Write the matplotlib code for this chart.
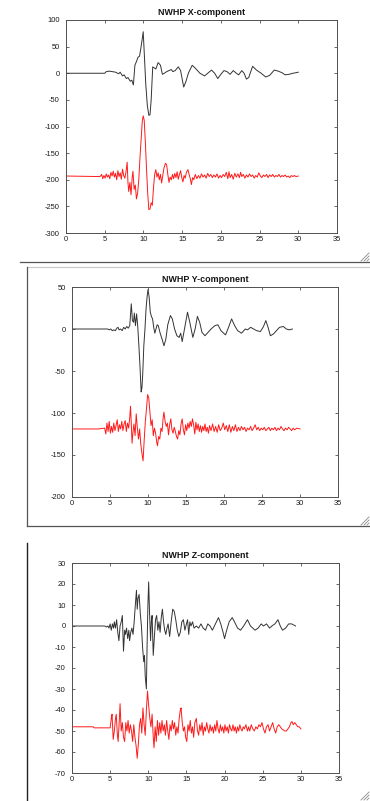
"""Three-component NWHP records: observed trace (black) and offset synthetic (red) per component."""
import numpy as np
import matplotlib; matplotlib.use("Agg")
import matplotlib.pyplot as plt
from matplotlib.lines import Line2D

plt.rcParams["font.family"] = ["Liberation Sans", "DejaVu Sans"]
plt.rcParams["axes.unicode_minus"] = False

COMPONENTS = ["X", "Y", "Z"]
YLIMS = [(-300, 100), (-200, 50), (-70, 30)]
YSTEPS = [50, 50, 10]
XTICKS = [0, 5, 10, 15, 20, 25, 30, 35]

# (time [s], amplitude) picks for each trace
X_TOP = [(0, 0), (5.0, 0), (5.2, 3), (5.6, 4), (6.0, 3), (6.4, 2), (6.8, -1), (7.0, 2), (7.3, -5), (7.5, -3),
         (7.8, -10), (8.0, -8), (8.3, -15), (8.5, -13), (8.7, -22), (8.9, 15), (9.1, 22), (9.3, 30), (9.5, 32),
         (9.7, 50), (9.85, 65), (9.97, 78), (10.1, 40), (10.3, -20), (10.5, -60), (10.7, -79), (10.85, -78),
         (11.0, -50), (11.2, 12), (11.4, 10), (11.6, 8), (11.9, 20), (12.2, 15), (12.45, -2), (12.7, 0),
         (13.0, 3), (13.3, 5), (13.6, 7), (13.8, 3), (14.1, 5), (14.5, 12), (14.8, 5), (15.2, -26), (15.5, -15),
         (15.8, 0), (16.3, 15), (16.8, 8), (17.3, 0), (17.9, -5), (18.3, 0), (18.8, 6), (19.2, 0), (19.6, -10),
         (20.0, -2), (20.4, 5), (20.8, 3), (21.2, -2), (21.6, 5), (22.0, 0), (22.3, -3), (22.7, 5), (23.0, 0),
         (23.3, -11), (23.6, -8), (24.1, 13), (24.6, 6), (25.2, 0), (25.8, -7), (26.3, -4), (26.9, 6), (27.4, 4),
         (27.9, 1), (28.3, -3), (28.8, -2), (29.3, 0), (29.7, 1), (30.0, 2)]
X_BOT = [(0, -193), (4.4, -194), (4.6, -190), (4.75, -198), (4.9, -192), (5.05, -197), (5.2, -189), (5.35, -195),
         (5.5, -191), (5.65, -198), (5.8, -186), (5.95, -193), (6.1, -184), (6.25, -195), (6.4, -188), (6.55, -200),
         (6.7, -183), (6.85, -194), (7.0, -187), (7.15, -199), (7.3, -180), (7.45, -192), (7.6, -197), (7.75, -185),
         (7.9, -167), (8.0, -205), (8.1, -222), (8.25, -205), (8.4, -228), (8.55, -195), (8.65, -184), (8.8, -218),
         (8.95, -210), (9.1, -236), (9.25, -225), (9.4, -200), (9.55, -160), (9.7, -125), (9.85, -90), (9.97, -80),
         (10.1, -88), (10.25, -130), (10.4, -180), (10.55, -225), (10.7, -256), (10.85, -255), (11.0, -243),
         (11.15, -248), (11.3, -215), (11.45, -190), (11.6, -181), (11.75, -195), (11.9, -187), (12.05, -200),
         (12.2, -190), (12.35, -206), (12.5, -192), (12.65, -178), (12.85, -169), (13.0, -172), (13.15, -190),
         (13.3, -205), (13.45, -195), (13.6, -200), (13.75, -190), (13.9, -198), (14.05, -188), (14.2, -196),
         (14.35, -185), (14.5, -199), (14.65, -190), (14.8, -183), (14.95, -196), (15.1, -204), (15.25, -192),
         (15.4, -197), (15.55, -186), (15.75, -181), (15.9, -190), (16.05, -198), (16.2, -209), (16.35, -196),
         (16.5, -200), (16.7, -190), (16.9, -198), (17.1, -192), (17.3, -197), (17.5, -189), (17.7, -195),
         (17.9, -191), (18.1, -197), (18.3, -188), (18.5, -194), (18.7, -190), (18.9, -196), (19.1, -191),
         (19.3, -195), (19.5, -189), (19.7, -197), (19.9, -192), (20.1, -196), (20.3, -190), (20.5, -194),
         (20.7, -186), (20.9, -198), (21.05, -185), (21.2, -196), (21.4, -190), (21.6, -199), (21.8, -188),
         (22.0, -195), (22.2, -189), (22.4, -196), (22.55, -186), (22.7, -194), (22.9, -190), (23.1, -197),
         (23.3, -191), (23.5, -195), (23.7, -189), (23.9, -194), (24.1, -191), (24.3, -197), (24.5, -192),
         (24.7, -195), (24.9, -187), (25.1, -193), (25.3, -196), (25.5, -191), (25.7, -194), (25.9, -190),
         (26.1, -196), (26.3, -191), (26.5, -194), (26.7, -190), (26.9, -195), (27.1, -192), (27.3, -194),
         (27.5, -190), (27.7, -195), (27.9, -192), (28.1, -194), (28.3, -191), (28.5, -195), (28.7, -193),
         (28.9, -196), (29.1, -192), (29.3, -194), (29.5, -192), (29.7, -194), (30.0, -193)]

Y_TOP = [(0, 0), (4.7, 0), (4.9, -1), (5.1, 0), (5.3, -2), (5.5, -1), (5.7, -2), (5.9, 1), (6.05, 2), (6.2, -1),
         (6.4, 0), (6.6, -2), (6.8, 2), (7.0, 0), (7.2, 3), (7.4, 1), (7.6, 4), (7.8, 30), (7.95, 10), (8.1, 8),
         (8.2, 19), (8.35, 4), (8.5, 18), (8.65, 3), (8.8, -20), (8.95, -45), (9.1, -75), (9.2, -70), (9.3, -55),
         (9.45, -20), (9.6, 0), (9.75, 25), (9.9, 40), (10.0, 47), (10.15, 38), (10.3, 20), (10.45, 15),
         (10.6, 12), (10.75, 2), (10.9, -5), (11.05, 0), (11.2, 5), (11.35, 4), (11.6, -5), (11.85, -12),
         (12.1, -20), (12.35, -12), (12.6, 5), (12.95, 16), (13.2, 12), (13.5, 0), (13.8, -8), (14.1, -10),
         (14.3, -5), (14.5, -15), (14.8, 0), (15.2, 20), (15.5, 8), (15.9, -10), (16.2, 0), (16.5, 15), (16.8, 8),
         (17.1, -4), (17.5, -8), (17.9, -4), (18.3, 0), (18.8, 4), (19.2, 5), (19.6, -2), (20.2, -7), (20.6, 2),
         (21.0, 12), (21.4, 4), (21.8, -2), (22.3, -5), (22.6, -2), (22.8, 0), (23.1, -1), (23.5, 2), (23.9, 0),
         (24.3, -2), (24.8, -3), (25.2, 3), (25.5, 10), (25.8, 2), (26.1, -8), (26.5, -6), (26.9, -2), (27.3, 2),
         (27.8, 3), (28.2, 0), (28.6, -1), (29.0, 0)]
Y_BOT = [(0, -119), (3.5, -119), (4.3, -118), (4.45, -125), (4.6, -112), (4.75, -122), (4.9, -110), (5.05, -124),
         (5.2, -116), (5.35, -123), (5.5, -112), (5.65, -121), (5.8, -115), (5.95, -108), (6.1, -122), (6.25, -114),
         (6.4, -119), (6.55, -110), (6.7, -121), (6.85, -113), (7.0, -109), (7.15, -122), (7.3, -112), (7.45, -118),
         (7.6, -105), (7.7, -92), (7.8, -112), (7.9, -136), (8.0, -125), (8.15, -113), (8.3, -127), (8.45, -101),
         (8.6, -118), (8.75, -131), (8.9, -119), (9.05, -137), (9.2, -148), (9.35, -157), (9.5, -132), (9.65, -110),
         (9.8, -95), (9.95, -78), (10.1, -82), (10.25, -98), (10.4, -115), (10.55, -108), (10.7, -127),
         (10.85, -118), (11.0, -124), (11.15, -135), (11.25, -139), (11.4, -128), (11.55, -131), (11.7, -118),
         (11.85, -122), (12.0, -105), (12.1, -99), (12.25, -110), (12.4, -116), (12.55, -112), (12.7, -126),
         (12.85, -114), (13.0, -107), (13.15, -120), (13.3, -124), (13.45, -117), (13.6, -122), (13.75, -128),
         (13.9, -131), (14.05, -121), (14.2, -126), (14.35, -113), (14.5, -107), (14.65, -120), (14.8, -126),
         (14.95, -114), (15.1, -121), (15.25, -112), (15.4, -118), (15.55, -110), (15.7, -116), (15.85, -107),
         (16.0, -114), (16.15, -125), (16.3, -111), (16.45, -120), (16.6, -113), (16.75, -122), (16.9, -115),
         (17.05, -123), (17.2, -116), (17.35, -121), (17.5, -113), (17.65, -122), (17.8, -117), (17.95, -124),
         (18.1, -115), (18.3, -121), (18.5, -113), (18.7, -122), (18.9, -116), (19.1, -123), (19.3, -114),
         (19.5, -121), (19.7, -118), (19.9, -112), (20.1, -120), (20.3, -115), (20.5, -122), (20.7, -114),
         (20.9, -123), (21.1, -116), (21.3, -121), (21.5, -114), (21.7, -122), (21.9, -117), (22.1, -121),
         (22.3, -116), (22.5, -120), (22.7, -117), (22.9, -122), (23.1, -118), (23.3, -120), (23.5, -116),
         (23.7, -121), (23.9, -118), (24.1, -114), (24.3, -120), (24.5, -117), (24.7, -121), (24.9, -118),
         (25.1, -120), (25.3, -117), (25.5, -121), (25.7, -119), (25.9, -117), (26.1, -121), (26.3, -118),
         (26.5, -120), (26.7, -117), (26.9, -121), (27.1, -118), (27.3, -120), (27.5, -116), (27.7, -119),
         (27.9, -121), (28.1, -118), (28.3, -120), (28.5, -117), (28.7, -119), (28.9, -121), (29.1, -118),
         (29.3, -120), (29.6, -118), (30.0, -119)]

Z_TOP = [(0, 0), (4.3, 0), (4.5, -0.5), (4.7, 0), (4.85, -1), (5.0, 1), (5.15, -2), (5.3, 1), (5.45, -1),
         (5.55, 2), (5.7, -1), (5.85, 3), (6.0, -3), (6.15, -7), (6.3, 0), (6.45, 2), (6.6, 5), (6.75, -12),
         (6.9, -2), (7.0, -4), (7.15, -1), (7.3, -6), (7.45, -2), (7.55, -7), (7.7, -3), (7.85, -1), (8.0, -4),
         (8.15, 2), (8.3, 10), (8.45, 17), (8.55, 8), (8.65, 13), (8.8, 15), (8.95, 6), (9.1, 0), (9.25, -10),
         (9.4, -17), (9.5, -14), (9.6, -24), (9.75, -30), (9.85, -8), (9.95, 10), (10.05, 21), (10.15, 8),
         (10.3, -7), (10.4, 2), (10.5, 5), (10.65, -14), (10.8, -5), (10.95, 3), (11.1, 5), (11.25, -2), (11.4, 2),
         (11.55, -3), (11.7, 4), (11.85, 8), (12.0, 2), (12.15, -2), (12.3, -4), (12.45, -1), (12.6, 1),
         (12.8, -5), (13.0, 2), (13.2, 8), (13.4, 7), (13.6, 3), (13.8, -2), (14.0, -5), (14.2, -3), (14.4, 2),
         (14.6, 3), (14.8, -2), (15.0, 1), (15.15, 3), (15.3, -4), (15.45, 2), (15.6, 0), (15.8, 2), (16.0, -1),
         (16.3, 0), (16.6, -1), (16.9, 1), (17.2, -1), (17.5, -2), (17.8, 1), (18.1, 0), (18.4, -2), (18.8, 1),
         (19.2, 4), (19.5, 1), (19.8, -3), (20.0, -6), (20.2, -3), (20.6, 2), (21.0, 4), (21.3, 2), (21.7, -1),
         (22.1, -2), (22.5, 0), (23.0, 3), (23.4, 0), (23.7, -1), (24.0, -2), (24.4, -1), (24.8, 1), (25.1, 0),
         (25.5, 1), (25.9, -1), (26.2, 0), (26.6, 1), (27.0, 3), (27.3, 0), (27.6, -2), (28.0, -1), (28.4, 1),
         (28.8, 1), (29.3, 0)]
Z_BOT = [(0, -48), (2.8, -48), (2.9, -48.5), (5.0, -48.5), (5.15, -44), (5.25, -42), (5.4, -54), (5.55, -50),
         (5.7, -44), (5.8, -42), (5.95, -52), (6.05, -55), (6.2, -45), (6.3, -37), (6.45, -50), (6.6, -46),
         (6.75, -53), (6.9, -55), (7.05, -46), (7.2, -50), (7.35, -45), (7.5, -51), (7.65, -47), (7.8, -50),
         (7.95, -55), (8.1, -47), (8.25, -53), (8.4, -57), (8.55, -63), (8.7, -56), (8.85, -47), (9.0, -44),
         (9.15, -51), (9.3, -39), (9.45, -47), (9.6, -52), (9.75, -40), (9.9, -31), (10.05, -38), (10.2, -44),
         (10.35, -48), (10.5, -42), (10.65, -53), (10.75, -58), (10.9, -48), (11.05, -55), (11.2, -45),
         (11.35, -52), (11.5, -46), (11.65, -51), (11.8, -45), (11.95, -50), (12.1, -47), (12.25, -52),
         (12.4, -45), (12.55, -50), (12.7, -54), (12.85, -47), (13.0, -50), (13.15, -45), (13.3, -49),
         (13.45, -46), (13.6, -52), (13.75, -48), (13.9, -51), (14.05, -44), (14.2, -40), (14.3, -39),
         (14.45, -46), (14.6, -50), (14.75, -48), (14.9, -53), (15.05, -55), (15.2, -47), (15.35, -50),
         (15.5, -45), (15.65, -51), (15.8, -48), (15.95, -53), (16.1, -46), (16.3, -44), (16.45, -50),
         (16.6, -52), (16.75, -47), (16.9, -50), (17.05, -46), (17.2, -52), (17.35, -48), (17.5, -50),
         (17.65, -46), (17.8, -49), (17.95, -51), (18.1, -47), (18.25, -50), (18.4, -48), (18.55, -51),
         (18.7, -47), (18.85, -50), (19.0, -45), (19.15, -49), (19.3, -51), (19.45, -47), (19.6, -50),
         (19.75, -48), (19.9, -51), (20.05, -47), (20.2, -50), (20.35, -48), (20.5, -51), (20.65, -47),
         (20.8, -49), (20.95, -50), (21.1, -47), (21.25, -50), (21.4, -48), (21.55, -51), (21.7, -48),
         (21.85, -50), (22.0, -47), (22.15, -49), (22.3, -50), (22.45, -48), (22.6, -49), (22.8, -47),
         (23.0, -50), (23.15, -48), (23.3, -50), (23.5, -47), (23.7, -49), (23.9, -50), (24.1, -48),
         (24.3, -49), (24.5, -47), (24.7, -48), (24.9, -46), (25.1, -49), (25.3, -51), (25.5, -48), (25.7, -47),
         (25.9, -50), (26.1, -48), (26.3, -46), (26.5, -49), (26.7, -51), (26.9, -48), (27.1, -47), (27.3, -48),
         (27.5, -49), (27.7, -49.5), (27.9, -50), (28.1, -50), (28.3, -49), (28.5, -48), (28.7, -46),
         (28.85, -45.5), (29.0, -47), (29.2, -46), (29.4, -47), (29.6, -48), (29.8, -48), (30.0, -49)]

TRACES = {"X": (X_TOP, X_BOT), "Y": (Y_TOP, Y_BOT), "Z": (Z_TOP, Z_BOT)}

W, H = 370, 801
fig = plt.figure(figsize=(W / 100, H / 100), dpi=100)
fig.patch.set_facecolor("white")

# axes boxes in pixels: left, top, right, bottom
BOXES = [(66, 20, 337, 233), (72, 287, 338, 497), (72, 563, 339, 773)]

for comp, ylim, ystep, (l, t, r, b) in zip(COMPONENTS, YLIMS, YSTEPS, BOXES):
    ax = fig.add_axes([l / W, 1 - b / H, (r - l) / W, (b - t) / H])
    top, bot = TRACES[comp]
    for pts, col in ((top, "#333333"), (bot, "#ff1a1a")):
        tt, vv = zip(*pts)
        ax.plot(tt, vv, color=col, lw=0.7)
    ax.set_xlim(0, 35)
    ax.set_ylim(*ylim)
    ax.set_xticks(XTICKS)
    ax.set_yticks(np.arange(ylim[0], ylim[1] + 1, ystep))
    ax.tick_params(direction="in", length=2.5, width=0.6, colors="#505050", labelcolor="#1a1a1a",
                   labelsize=5.4, top=True, right=True)
    ax.tick_params(axis="y", pad=4.5)
    ax.tick_params(axis="x", pad=2.5)
    for s in ax.spines.values():
        s.set_color("#505050"); s.set_linewidth(0.7)
    ax.set_title(f"NWHP {comp}-component", fontsize=6.4, fontweight="bold", color="#151515", pad=3.5)


def seg(x0, y0, x1, y1, **kw):
    fig.add_artist(Line2D([x0 / W, x1 / W], [1 - y0 / H, 1 - y1 / H], transform=fig.transFigure, **kw))


def grip(x, y):
    for k in (2, 5, 8):
        seg(x - k, y, x, y - k, color="#8a8a8a", lw=0.6)


# window frame edges around the figures
seg(20, 262, W, 262, color="#555555", lw=0.9)
grip(369, 261)
seg(27, 267, W, 267, color="#c8c8c8", lw=0.8)
seg(27, 267, 27, 526, color="#555555", lw=0.9)
seg(27, 526, W, 526, color="#555555", lw=0.9)
grip(369, 525)
seg(27, 543, 27, H, color="#222222", lw=1.0)
grip(369, 800)

fig.savefig("out.png", dpi=100)
